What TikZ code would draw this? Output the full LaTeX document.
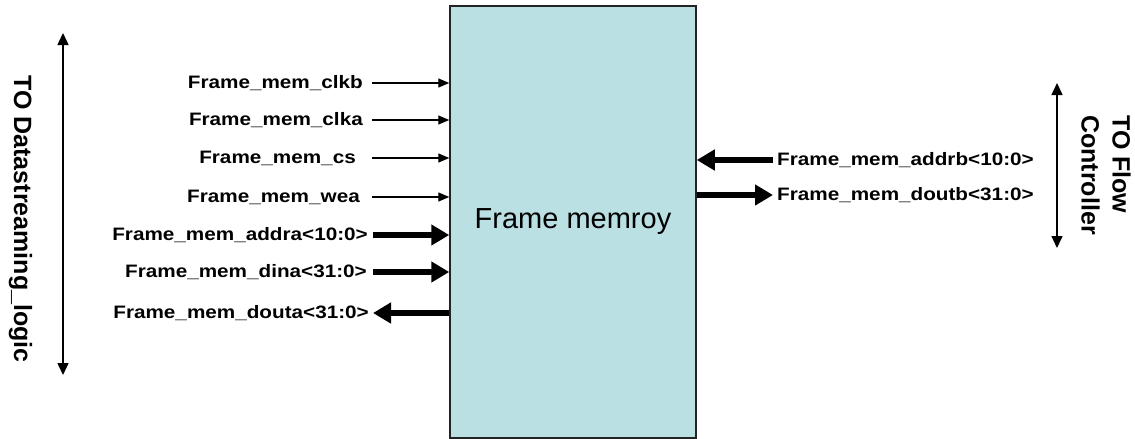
\documentclass[tikz,border=0pt]{standalone}
\usepackage{fontspec}
\setmainfont{Liberation Sans}
\newfontfamily\sigfont[FakeStretch=1.15]{Liberation Sans}
\usetikzlibrary{arrows.meta,positioning}
\definecolor{memFill}{RGB}{187,224,227}
\definecolor{memEdge}{RGB}{35,35,35}

\begin{document}
\begin{tikzpicture}[x=1pt,y=-1pt,
    mem/.style={draw=memEdge,line width=1.5pt,fill=memFill,
                minimum width=246pt,minimum height=432pt,
                font=\fontsize{29}{34}\selectfont},
    sig/.style={inner sep=0pt,font=\sigfont\bfseries\fontsize{18}{21}\selectfont},
    side/.style={inner sep=0pt,align=left,rotate=-90,
                 font=\bfseries\fontsize{25}{31}\selectfont},
    thinar/.style={-{Triangle[length=11pt,width=9pt]},line width=1.3pt},
    busar/.style={-{Triangle[length=18pt,width=20pt]},line width=6.5pt},
    updown/.style={{Triangle[length=12pt,width=11pt]}-{Triangle[length=12pt,width=11pt]},
                   line width=1.5pt}]
  \useasboundingbox (0,0) rectangle (1135,439);
  \node[mem] (mem) at (573,222) {Frame memroy};

  % port A side
  \foreach \n/\y/\gap/\txt in {clkb/83/9/clkb,clka/120/9/clka,cs/158/16/cs,wea/197/12/wea}{
    \coordinate (\n-in) at (372,\y);
    \node[sig,left=\gap pt of \n-in] (\n) {Frame\_mem\_\txt};
    \draw[thinar] (\n-in) -- (\n-in -| mem.west);
  }
  \foreach \n/\y/\gap/\txt in {addra/235/5/addra<10:0>,dina/272/6/dina<31:0>}{
    \coordinate (\n-in) at (373,\y);
    \node[sig,left=\gap pt of \n-in] (\n) {Frame\_mem\_\txt};
    \draw[busar] (\n-in) -- (\n-in -| mem.west);
  }
  \coordinate (douta-out) at (373,313);
  \node[sig,left=4pt of douta-out] (douta) {Frame\_mem\_douta<31:0>};
  \draw[busar] (douta-out -| mem.west) -- (douta-out);

  % port B side
  \coordinate (addrb-in) at (773,160);
  \node[sig,right=4pt of addrb-in] (addrb) {Frame\_mem\_addrb<10:0>};
  \draw[busar] (addrb-in) -- (addrb-in -| mem.east);
  \coordinate (doutb-out) at (773,195);
  \node[sig,right=4pt of doutb-out] (doutb) {Frame\_mem\_doutb<31:0>};
  \draw[busar] (doutb-out -| mem.east) -- (doutb-out);

  % destinations
  \coordinate (ds-top) at (63,33);
  \coordinate (ds-bot) at (63,375);
  \draw[updown] (ds-top) -- (ds-bot);
  \node[side] (dslbl) at (20.5,219) {TO Datastreaming\_logic};
  \coordinate (fc-top) at (1057,83);
  \coordinate (fc-bot) at (1057,248);
  \draw[updown] (fc-top) -- (fc-bot);
  \node[side] (fclbl) at (1106,175) {TO Flow\\Controller};
\end{tikzpicture}
\end{document}
